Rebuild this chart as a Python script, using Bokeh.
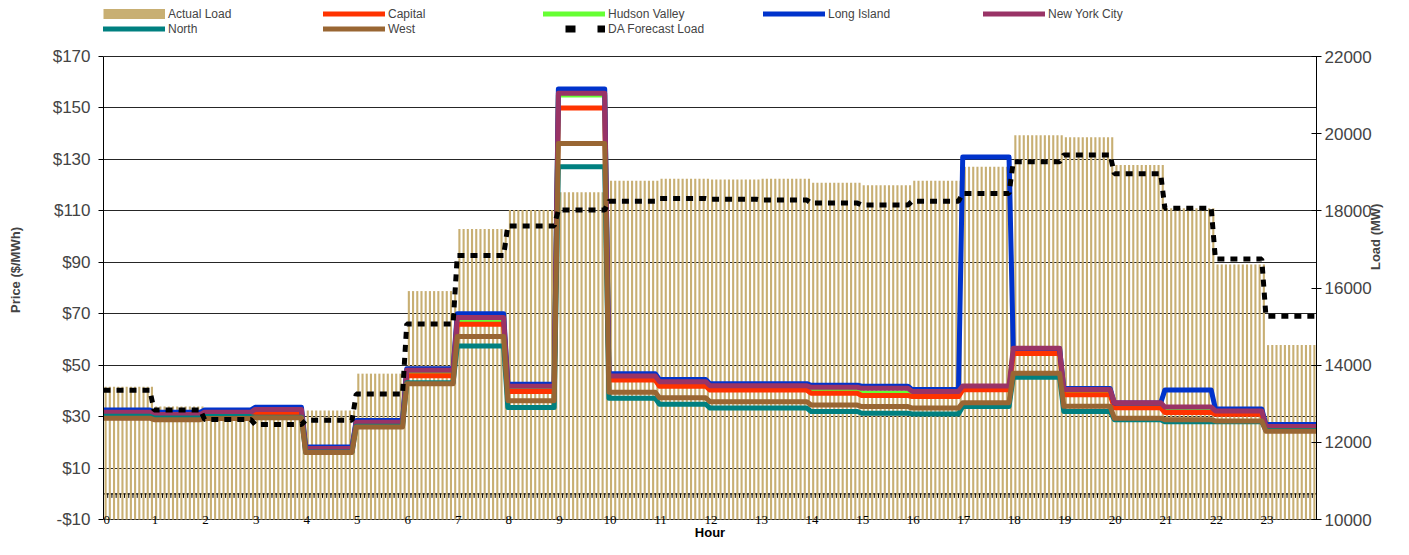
import math
import numpy as np
from bokeh.plotting import figure
from bokeh.models import (Range1d, LinearAxis, FixedTicker, Legend, LegendItem,
                          LabelSet, Label, ColumnDataSource)
from bokeh.embed import file_html
from bokeh.resources import INLINE

# ---------------- data ----------------
hours = list(range(24))
hour_labels = [str(h) for h in hours]
intervals_per_hour = 12

price_ticks = [-10, 10, 30, 50, 70, 90, 110, 130, 150, 170]
price_tick_labels = ["-$10", "$10", "$30", "$50", "$70", "$90", "$110", "$130", "$150", "$170"]
load_ticks = [10000, 12000, 14000, 16000, 18000, 20000, 22000]
load_tick_labels = ["10000", "12000", "14000", "16000", "18000", "20000", "22000"]

actual_load = [13440, 12930, 12700, 12600, 12825, 13780, 15920, 17530, 18020, 18480,
               18780, 18830, 18810, 18830, 18730, 18660, 18780, 19140, 19960, 19910,
               19190, 18070, 16610, 14520]
da_forecast_load = [13350, 12840, 12590, 12460, 12570, 13250, 15070, 16840, 17610, 18020,
                    18250, 18320, 18300, 18280, 18200, 18150, 18250, 18450, 19270, 19450,
                    18960, 18070, 16750, 15270]

capital = [31.0, 30.3, 31.0, 31.4, 17.0, 27.2, 45.9, 65.9, 39.8, 150.0,
           44.2, 41.8, 40.3, 40.3, 39.1, 38.2, 37.8, 40.4, 54.5, 38.5,
           33.4, 31.6, 30.9, 25.5]
hudson_valley = [31.7, 31.0, 31.7, 32.0, 17.5, 27.8, 46.8, 67.0, 40.8, 155.0,
                 45.1, 42.7, 41.2, 41.2, 40.0, 39.1, 38.7, 41.2, 55.5, 39.4,
                 34.3, 32.5, 31.7, 26.0]
long_island = [32.6, 31.7, 32.6, 33.6, 18.2, 28.5, 48.6, 70.0, 42.6, 157.4,
               46.7, 44.4, 42.8, 42.8, 42.2, 41.8, 40.5, 130.9, 56.5, 40.9,
               35.3, 40.3, 33.0, 26.9]
new_york_city = [31.7, 30.8, 31.7, 32.8, 17.6, 27.8, 48.0, 68.5, 41.8, 155.7,
                 45.8, 43.6, 42.0, 42.0, 41.4, 41.0, 39.8, 41.9, 56.6, 40.5,
                 35.4, 33.7, 32.2, 26.2]
north = [30.1, 29.5, 30.0, 29.8, 16.2, 26.3, 43.2, 57.5, 33.5, 127.1,
         37.1, 34.8, 33.3, 33.3, 32.0, 31.3, 31.0, 33.9, 45.3, 32.0,
         28.8, 28.0, 28.0, 24.6]
west = [29.4, 28.8, 29.3, 29.6, 16.0, 26.0, 42.8, 61.1, 36.2, 136.2,
        39.5, 37.3, 35.8, 35.8, 34.5, 33.9, 33.3, 35.4, 46.9, 34.0,
        29.4, 28.8, 28.3, 24.3]

# ---------------- styles / layout ----------------
FONT = "Liberation Sans"
TAN = "#C8AF73"
C_CAPITAL = "#FF3300"
C_HUDSON = "#66FF33"
C_LI = "#0033CC"
C_NYC = "#993366"
C_NORTH = "#008080"
C_WEST = "#996633"

FIG_W, FIG_H = 1393, 539
BORDER_LEFT, BORDER_RIGHT = 103, 77
DATA_TOP_PX, DATA_BOT_PX = 56, 519     # pixel rows of $170 and -$10
P_MIN, P_MAX = price_ticks[0], price_ticks[-1]
L_MIN, L_MAX = load_ticks[0], load_ticks[-1]
ppu = (DATA_BOT_PX - DATA_TOP_PX) / (P_MAX - P_MIN)
y_hi = P_MAX + DATA_TOP_PX / ppu
y_lo = P_MIN - (FIG_H - DATA_BOT_PX) / ppu
load_per_price = (L_MAX - L_MIN) / (P_MAX - P_MIN)
load_lo = L_MIN + (y_lo - P_MIN) * load_per_price
load_hi = L_MAX + (y_hi - P_MAX) * load_per_price

# ---------------- derived positions ----------------
n = intervals_per_hour
bar_x = np.array([h + (k + 0.5) / n for h in hours for k in range(n)])
bar_top = np.repeat(np.array(actual_load, dtype=float), n)
tick_x = np.array([h + k / n for h in hours for k in range(n)] + [len(hours)])


def step_xy(vals):
    xs, ys = [], []
    for h, v in zip(hours, vals):
        xs += [h, h + (n - 1) / n]
        ys += [v, v]
    xs.append(len(hours))
    ys.append(vals[-1])
    return xs, ys


p = figure(width=FIG_W, height=FIG_H,
           x_range=Range1d(0, len(hours)), y_range=Range1d(y_lo, y_hi),
           x_axis_location=None,
           output_backend="svg", toolbar_location=None,
           min_border_left=BORDER_LEFT, min_border_right=BORDER_RIGHT,
           min_border_top=0, min_border_bottom=0,
           background_fill_color="white", border_fill_color="white",
           outline_line_color=None)
p.title.visible = False
p.extra_y_ranges = {"load": Range1d(load_lo, load_hi)}

# grid
p.xgrid.visible = False
p.ygrid.ticker = FixedTicker(ticks=price_ticks)
p.ygrid.grid_line_color = "#000000"
p.ygrid.grid_line_alpha = 0.85
p.ygrid.grid_line_width = 1

# zero-price category line with tick marks (under the bars)
p.line(x=[0, len(hours)], y=[0, 0], line_color="#000000", line_width=1.2)
p.segment(x0=tick_x, y0=0, x1=tick_x, y1=-1.6, line_color="#000000", line_width=1)

# actual load bars
p.vbar(x=bar_x, top=bar_top, bottom=L_MIN, width=0.5 / n,
       y_range_name="load", fill_color=TAN, line_color=None)

# price lines
series = [
    ("Hudson Valley", hudson_valley, C_HUDSON),
    ("Capital", capital, C_CAPITAL),
    ("Long Island", long_island, C_LI),
    ("New York City", new_york_city, C_NYC),
    ("North", north, C_NORTH),
    ("West", west, C_WEST),
]
rend = {}
for name, vals, col in series:
    xs, ys = step_xy(vals)
    rend[name] = p.line(xs, ys, line_color=col, line_width=5,
                        line_join="round", line_cap="round")

# DA forecast load
dx, dy = step_xy(da_forecast_load)
p.line(dx, dy, y_range_name="load", line_color="black", line_width=5,
       line_dash="7 6")

# legend swatch proxies (kept outside the visible x range)
off = [-3, -2]
leg_load = p.line(x=off, y=[P_MIN, P_MIN], line_color=TAN, line_width=10)
leg_da = p.line(x=off, y=[P_MIN, P_MIN], line_color="black", line_width=7,
                line_dash="10 22", line_dash_offset=10)

# hour labels sitting on the bottom axis line, and the axis title
first_src = ColumnDataSource(dict(x=hours[:1], y=[P_MIN], text=hour_labels[:1]))
rest_src = ColumnDataSource(dict(x=hours[1:], y=[P_MIN] * (len(hours) - 1),
                                 text=hour_labels[1:]))
p.add_layout(LabelSet(x="x", y="y", text="text", source=first_src,
                      x_offset=0, text_align="left", text_baseline="middle",
                      text_font=FONT, text_font_size="13px", text_color="black"))
p.add_layout(LabelSet(x="x", y="y", text="text", source=rest_src,
                      x_offset=1, text_align="center", text_baseline="middle",
                      text_font=FONT, text_font_size="13px", text_color="black"))
p.add_layout(Label(x=len(hours) / 2, y=P_MIN - 13 / ppu, text="Hour",
                   text_align="center", text_baseline="middle",
                   text_font=FONT, text_font_size="13px", text_font_style="bold",
                   text_color="black"))

# axes
ya = p.yaxis[0]
ya.ticker = FixedTicker(ticks=price_ticks)
ya.bounds = (P_MIN, P_MAX)
ya.major_label_overrides = {t: lab for t, lab in zip(price_ticks, price_tick_labels)}
ya.axis_line_color = "black"
ya.axis_line_width = 1
ya.major_tick_out = 5
ya.major_tick_in = 0
ya.major_tick_line_color = "black"
ya.minor_tick_line_color = None
ya.major_label_text_font = FONT
ya.major_label_text_font_size = "17px"
ya.major_label_standoff = 8
ya.axis_label = "Price ($/MWh)"
ya.axis_label_text_font = FONT
ya.axis_label_text_font_size = "13px"
ya.axis_label_text_font_style = "bold"
ya.axis_label_standoff = 27

ra = LinearAxis(y_range_name="load", ticker=FixedTicker(ticks=load_ticks))
ra.bounds = (L_MIN, L_MAX)
ra.major_label_overrides = {t: lab for t, lab in zip(load_ticks, load_tick_labels)}
ra.axis_line_color = "black"
ra.major_tick_out = 5
ra.major_tick_in = 5
ra.minor_tick_line_color = None
ra.major_label_text_font = FONT
ra.major_label_text_font_size = "17px"
ra.major_label_standoff = 3
ra.axis_label = "Load (MW)"
ra.axis_label_text_font = FONT
ra.axis_label_text_font_size = "13px"
ra.axis_label_text_font_style = "bold"
ra.axis_label_standoff = 1
try:
    ra.axis_label_orientation = math.pi / 2
except Exception:
    pass
p.add_layout(ra, "right")


def make_legend(items, vy):
    lg = Legend(items=items, location=(0, vy), orientation="horizontal",
                glyph_width=62, glyph_height=15, label_height=15,
                label_width=155, label_standoff=3, spacing=0,
                padding=0, margin=0, border_line_color=None,
                background_fill_alpha=0,
                label_text_font=FONT, label_text_font_size="12px",
                label_text_baseline="middle")
    p.add_layout(lg, "center")


make_legend([
    LegendItem(label="Actual Load", renderers=[leg_load]),
    LegendItem(label="Capital", renderers=[rend["Capital"]]),
    LegendItem(label="Hudson Valley", renderers=[rend["Hudson Valley"]]),
    LegendItem(label="Long Island", renderers=[rend["Long Island"]]),
    LegendItem(label="New York City", renderers=[rend["New York City"]]),
], FIG_H - 6 - 15)
make_legend([
    LegendItem(label="North", renderers=[rend["North"]]),
    LegendItem(label="West", renderers=[rend["West"]]),
    LegendItem(label="DA Forecast Load", renderers=[leg_da]),
], FIG_H - 21 - 15)

open("out.html", "w").write(file_html(p, INLINE))
